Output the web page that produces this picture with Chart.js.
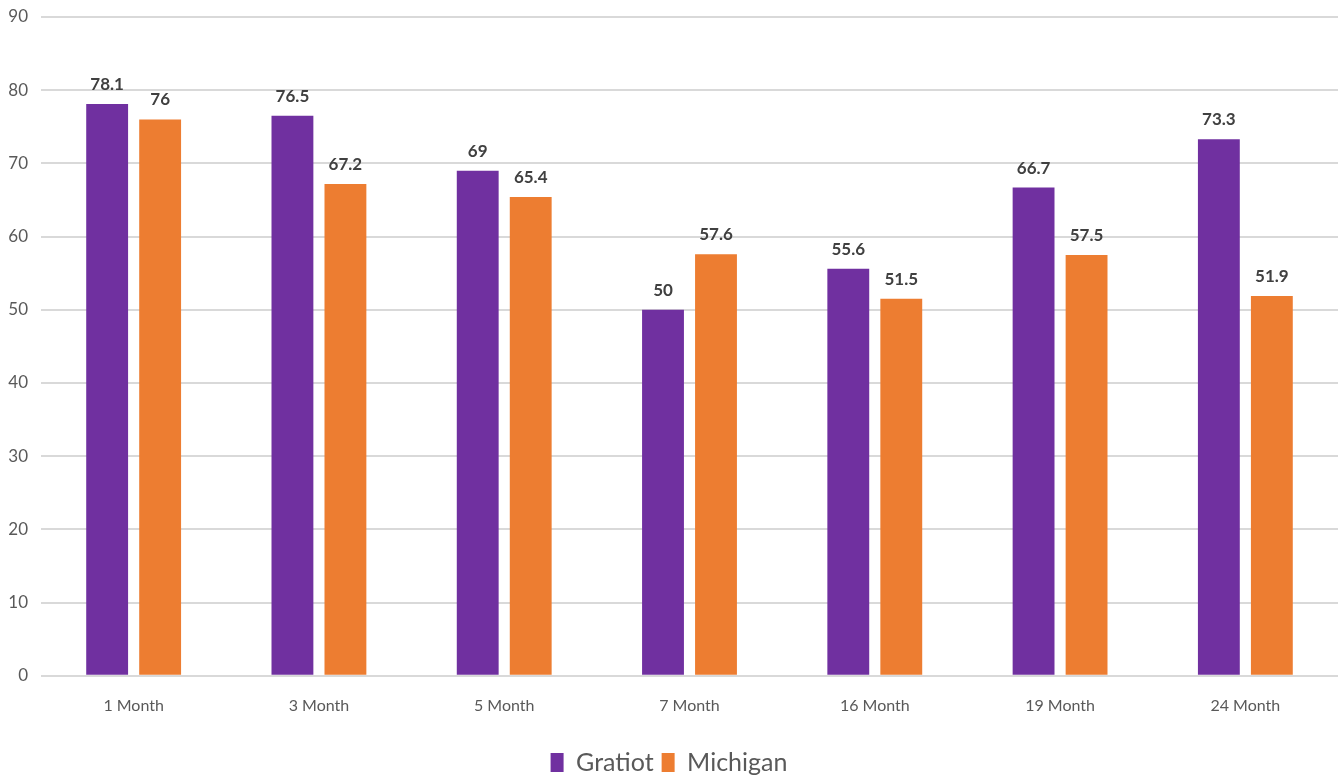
<!DOCTYPE html>
<html>
<head>
<meta charset="utf-8">
<script src="https://cdn.jsdelivr.net/npm/chart.js@4"></script>
<style>
  html, body { margin: 0; padding: 0; background: #fff; }
  #wrap { width: 1339px; height: 780px; }
</style>
</head>
<body>
<div id="wrap"><canvas id="chart"></canvas></div>
<script>
const categories = ['1 Month', '3 Month', '5 Month', '7 Month', '16 Month', '19 Month', '24 Month'];
const gratiot = [78.1, 76.5, 69, 50, 55.6, 66.7, 73.3];
const michigan = [76, 67.2, 65.4, 57.6, 51.5, 57.5, 51.9];
const yTicks = [0, 10, 20, 30, 40, 50, 60, 70, 80, 90];

const fontFamily = 'Lato, "Open Sans", sans-serif';

// Draw value labels above each bar
const valueLabels = {
    id: 'valueLabels',
    afterDatasetsDraw(chart) {
        const ctx = chart.ctx;
        ctx.save();
        ctx.font = 'bold 17px ' + fontFamily;
        ctx.fillStyle = '#404040';
        ctx.textAlign = 'center';
        ctx.textBaseline = 'bottom';
        chart.data.datasets.forEach((ds, i) => {
            chart.getDatasetMeta(i).data.forEach((bar, j) => {
                ctx.fillText(String(ds.data[j]), bar.x, bar.y - 11);
            });
        });
        ctx.restore();
    }
};

new Chart(document.getElementById('chart').getContext('2d'), {
    type: 'bar',
    data: {
        labels: categories,
        datasets: [
            { label: 'Gratiot', data: gratiot, backgroundColor: '#7030A0' },
            { label: 'Michigan', data: michigan, backgroundColor: '#ED7D31' }
        ]
    },
    options: {
        responsive: true,
        maintainAspectRatio: false,
        animation: false,
        layout: { padding: { top: 17, right: 1, left: 0, bottom: -5 } },
        datasets: {
            bar: { categoryPercentage: 0.572, barPercentage: 0.79 }
        },
        plugins: {
            legend: {
                position: 'bottom',
                labels: {
                    color: '#595959',
                    font: { family: fontFamily, size: 25 },
                    boxWidth: 13,
                    boxHeight: 19,
                    padding: 8
                }
            },
            tooltip: { enabled: false }
        },
        scales: {
            x: {
                grid: { display: false },
                border: { display: false },
                afterFit(axis) { axis.height += 15; },
                ticks: {
                    color: '#595959',
                    font: { family: fontFamily, size: 16 },
                    padding: 12
                }
            },
            y: {
                min: 0,
                max: 90,
                afterBuildTicks(axis) {
                    axis.ticks = yTicks.map(v => ({ value: v }));
                },
                afterFit(axis) {
                    axis.width = 41;
                    axis.paddingTop = 0;
                    axis.paddingBottom = 0;
                },
                grid: { color: '#d9d9d9', lineWidth: 2, drawTicks: false },
                border: { display: false },
                ticks: {
                    color: '#595959',
                    font: { family: fontFamily, size: 17 },
                    padding: 13
                }
            }
        }
    },
    plugins: [valueLabels]
});
</script>
</body>
</html>
